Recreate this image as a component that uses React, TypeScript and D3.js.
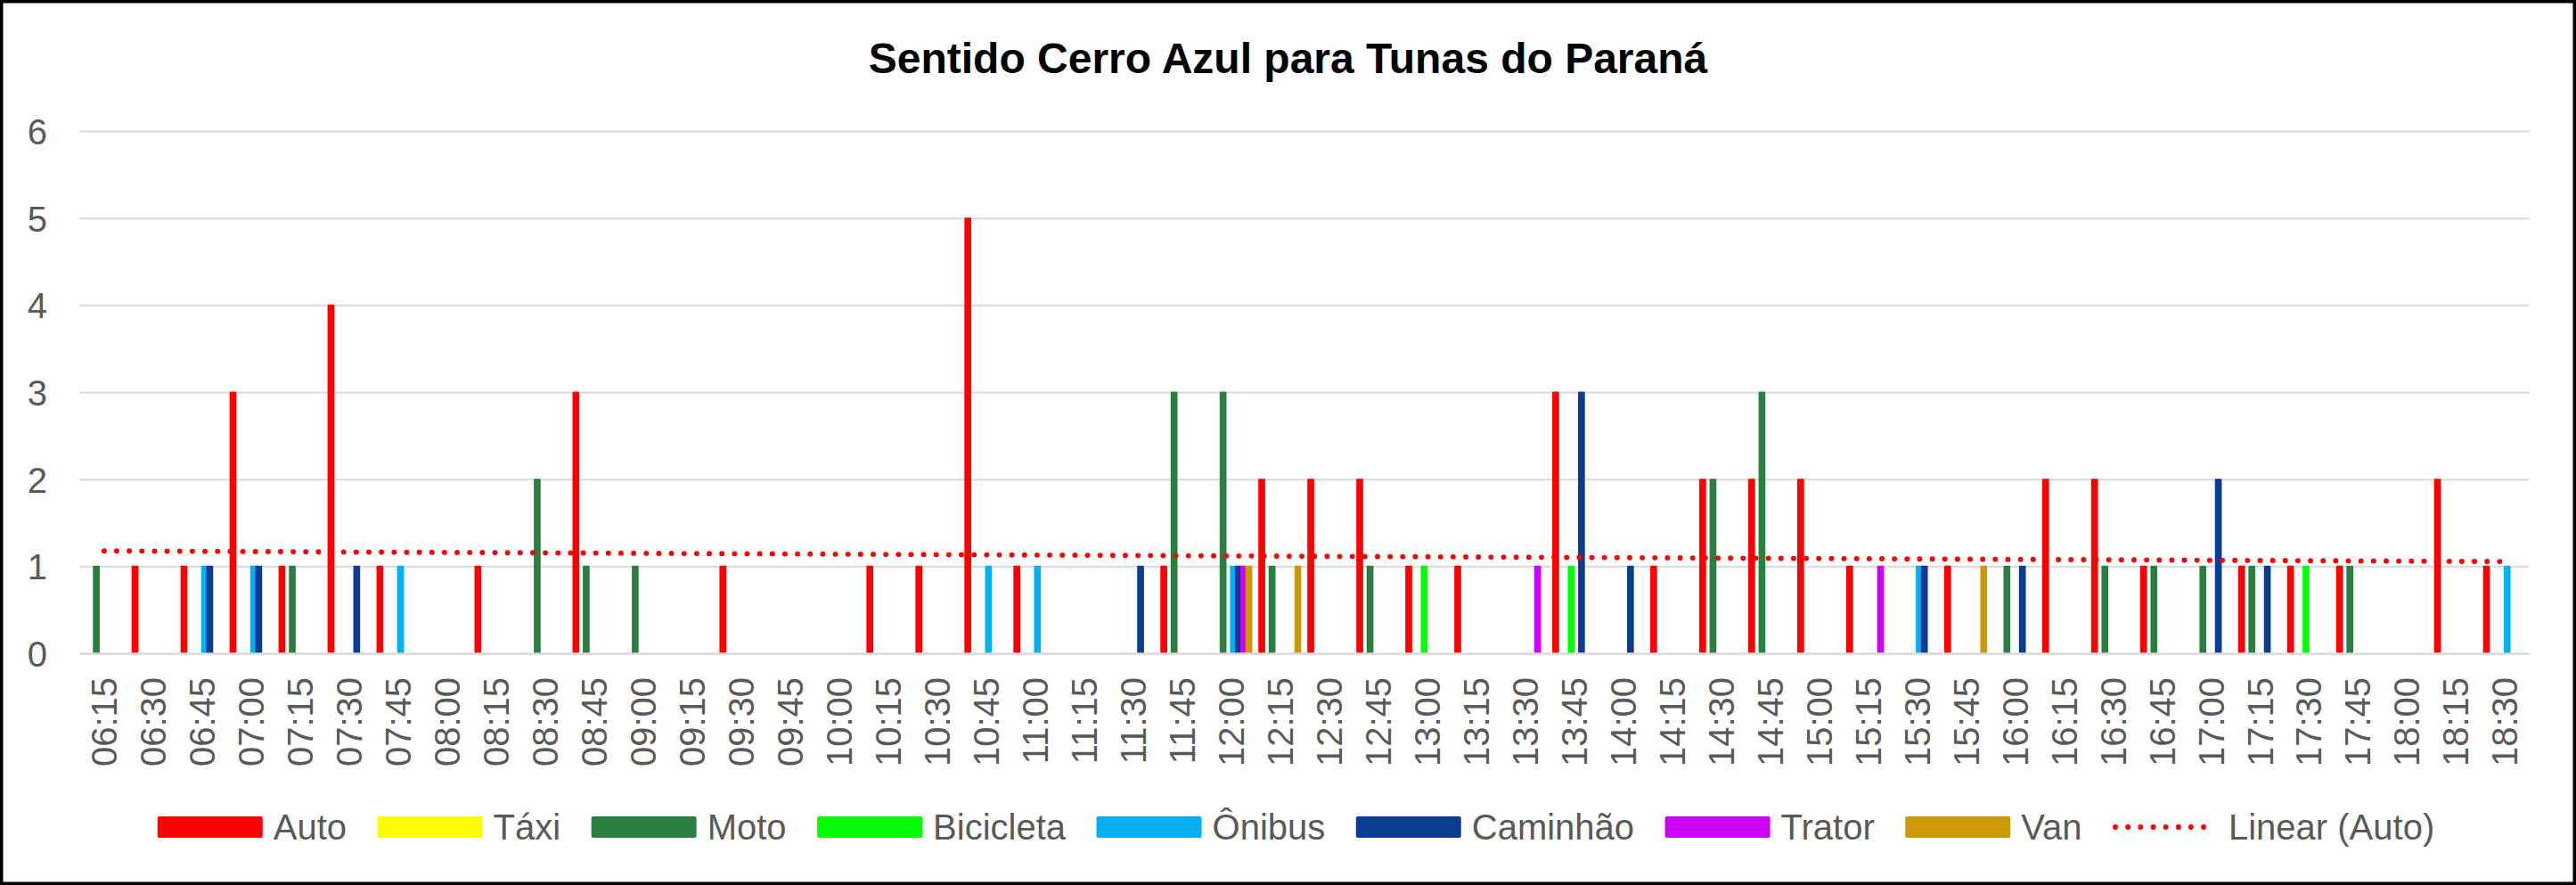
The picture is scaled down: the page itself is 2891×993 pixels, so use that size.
import React from "react";
import * as d3 from "d3";

const W = 2891;
const H = 993;

const title = "Sentido Cerro Azul para Tunas do Paraná";

const categories = [
  "06:15", "06:30", "06:45", "07:00", "07:15", "07:30", "07:45", "08:00", "08:15", "08:30",
  "08:45", "09:00", "09:15", "09:30", "09:45", "10:00", "10:15", "10:30", "10:45", "11:00",
  "11:15", "11:30", "11:45", "12:00", "12:15", "12:30", "12:45", "13:00", "13:15", "13:30",
  "13:45", "14:00", "14:15", "14:30", "14:45", "15:00", "15:15", "15:30", "15:45", "16:00",
  "16:15", "16:30", "16:45", "17:00", "17:15", "17:30", "17:45", "18:00", "18:15", "18:30",
];

const auto = [
  0, 1, 1, 3, 1, 4, 1, 0, 1, 0,
  3, 0, 0, 1, 0, 0, 1, 1, 5, 1,
  0, 0, 1, 0, 2, 2, 2, 1, 1, 0,
  3, 0, 1, 2, 2, 2, 1, 0, 1, 0,
  2, 2, 1, 0, 1, 1, 1, 0, 2, 1,
];
const taxi = [
  0, 0, 0, 0, 0, 0, 0, 0, 0, 0,
  0, 0, 0, 0, 0, 0, 0, 0, 0, 0,
  0, 0, 0, 0, 0, 0, 0, 0, 0, 0,
  0, 0, 0, 0, 0, 0, 0, 0, 0, 0,
  0, 0, 0, 0, 0, 0, 0, 0, 0, 0,
];
const moto = [
  1, 0, 0, 0, 1, 0, 0, 0, 0, 2,
  1, 1, 0, 0, 0, 0, 0, 0, 0, 0,
  0, 0, 3, 3, 1, 0, 1, 0, 0, 0,
  0, 0, 0, 2, 3, 0, 0, 0, 0, 1,
  0, 1, 1, 1, 1, 0, 1, 0, 0, 0,
];
const bicicleta = [
  0, 0, 0, 0, 0, 0, 0, 0, 0, 0,
  0, 0, 0, 0, 0, 0, 0, 0, 0, 0,
  0, 0, 0, 0, 0, 0, 0, 1, 0, 0,
  1, 0, 0, 0, 0, 0, 0, 0, 0, 0,
  0, 0, 0, 0, 0, 1, 0, 0, 0, 0,
];
const onibus = [
  0, 0, 1, 1, 0, 0, 1, 0, 0, 0,
  0, 0, 0, 0, 0, 0, 0, 0, 1, 1,
  0, 0, 0, 1, 0, 0, 0, 0, 0, 0,
  0, 0, 0, 0, 0, 0, 0, 1, 0, 0,
  0, 0, 0, 0, 0, 0, 0, 0, 0, 1,
];
const caminhao = [
  0, 0, 1, 1, 0, 1, 0, 0, 0, 0,
  0, 0, 0, 0, 0, 0, 0, 0, 0, 0,
  0, 1, 0, 1, 0, 0, 0, 0, 0, 0,
  3, 1, 0, 0, 0, 0, 0, 1, 0, 1,
  0, 0, 0, 2, 1, 0, 0, 0, 0, 0,
];
const trator = [
  0, 0, 0, 0, 0, 0, 0, 0, 0, 0,
  0, 0, 0, 0, 0, 0, 0, 0, 0, 0,
  0, 0, 0, 1, 0, 0, 0, 0, 0, 1,
  0, 0, 0, 0, 0, 0, 1, 0, 0, 0,
  0, 0, 0, 0, 0, 0, 0, 0, 0, 0,
];
const van = [
  0, 0, 0, 0, 0, 0, 0, 0, 0, 0,
  0, 0, 0, 0, 0, 0, 0, 0, 0, 0,
  0, 0, 0, 1, 1, 0, 0, 0, 0, 0,
  0, 0, 0, 0, 0, 0, 0, 0, 1, 0,
  0, 0, 0, 0, 0, 0, 0, 0, 0, 0,
];

const seriesNames = ["Auto", "Táxi", "Moto", "Bicicleta", "Ônibus", "Caminhão", "Trator", "Van"];
const seriesValues = [auto, taxi, moto, bicicleta, onibus, caminhao, trator, van];
const seriesColors = ["#FF0000", "#FFFF00", "#2A7F40", "#00FF00", "#00B0F0", "#0C3C92", "#CC00FF", "#CC9900"];
const trendLabel = "Linear (Auto)";
const yTicks = [0, 1, 2, 3, 4, 5, 6];

const FONT = "'Liberation Sans', Arial, Helvetica, sans-serif";
const TEXT_GRAY = "#595959";
const GRID = "#D9D9D9";

function measure(text: string, size: number): number {
  try {
    const c = document.createElement("canvas");
    const ctx = c.getContext("2d");
    if (ctx) {
      ctx.font = `${size}px ${FONT}`;
      return ctx.measureText(text).width;
    }
  } catch (e) {}
  return text.length * size * 0.5;
}

export default function App() {
  const plotLeft = 89.3;
  const plotRight = 2838.3;
  const y0 = 733.5;
  const yTop = 147.5;

  const x0 = d3.scaleBand<string>().domain(categories).range([plotLeft, plotRight]).paddingInner(0).paddingOuter(0);
  const x1 = d3.scaleBand<string>().domain(seriesNames).range([0, x0.bandwidth()]).paddingInner(0).paddingOuter(0.75);
  const y = d3.scaleLinear().domain([0, 6]).range([y0, yTop]);

  const barExtra = 1.9;
  const barW = x1.bandwidth() + barExtra;

  // linear trendline for Auto (least squares over category index)
  const n = auto.length;
  const xs = d3.range(1, n + 1);
  const mx = d3.mean(xs) as number;
  const my = d3.mean(auto) as number;
  const sxy = d3.sum(xs.map((xv, i) => (xv - mx) * (auto[i] - my)));
  const sxx = d3.sum(xs.map((xv) => (xv - mx) * (xv - mx)));
  const slope = sxy / sxx;
  const intercept = my - slope * mx;
  const trendPts: [number, number][] = [1, n].map((xv) => [
    (x0(categories[xv - 1]) as number) + x0.bandwidth() / 2,
    y(intercept + slope * xv),
  ]);
  const line = d3.line();

  // legend layout
  const legendFont = 40;
  const swW = 118;
  const swH = 24;
  const swGap = 12;
  const itemGap = 34.5;
  const legendItems = [...seriesNames.map((s, i) => ({ label: s, color: seriesColors[i], trend: false })), { label: trendLabel, color: "#FF0000", trend: true }];
  const widths = legendItems.map((it) => swW + swGap + measure(it.label, legendFont));
  const total = d3.sum(widths) + itemGap * (legendItems.length - 1);
  let cursor = 1454.5 - total / 2;
  const legendPos = widths.map((w) => {
    const p = cursor;
    cursor += w + itemGap;
    return p;
  });
  const legendY = 928;

  return (
    <svg width={W} height={H} style={{ position: "absolute", left: 0, top: 0, display: "block" }} xmlns="http://www.w3.org/2000/svg">
      <rect x={0} y={0} width={W} height={H} fill="#FFFFFF" />
      <rect x={1.75} y={1.75} width={W - 3.5} height={H - 3.5} fill="none" stroke="#000" strokeWidth={3.5} />

      <text x={W / 2} y={82} textAnchor="middle" fontFamily={FONT} fontWeight="bold" fontSize={48} fill="#000">
        {title}
      </text>

      {/* gridlines */}
      {yTicks.filter((t) => t > 0).map((t) => (
        <line key={"g" + t} x1={plotLeft} x2={plotRight} y1={y(t)} y2={y(t)} stroke={GRID} strokeWidth={2} />
      ))}

      {/* y tick labels */}
      {yTicks.map((t) => (
        <text key={"yt" + t} x={53} y={y(t) + 14.6} textAnchor="end" fontFamily={FONT} fontSize={40} fill={TEXT_GRAY}>
          {t}
        </text>
      ))}

      {/* bars */}
      {seriesValues.map((vals, si) => (
        <g key={"s" + si} fill={seriesColors[si]}>
          {vals.map((v, ci) =>
            v > 0 ? (
              <rect
                key={ci}
                x={(x0(categories[ci]) as number) + (x1(seriesNames[si]) as number) + x1.bandwidth() / 2 - barW / 2}
                y={y(v) - 1}
                width={barW}
                height={y0 - y(v) + 1}
                rx={1}
              />
            ) : null
          )}
        </g>
      ))}

      {/* x axis line */}
      <line x1={plotLeft} x2={plotRight} y1={y0} y2={y0} stroke={GRID} strokeWidth={2.6} />

      {/* x tick labels */}
      {categories.map((c) => {
        const cx = (x0(c) as number) + x0.bandwidth() / 2 + 14.6;
        return (
          <text key={"xt" + c} transform={`translate(${cx},760) rotate(-90)`} textAnchor="end" fontFamily={FONT} fontSize={40} fill={TEXT_GRAY}>
            {c}
          </text>
        );
      })}

      {/* trendline */}
      <path d={line(trendPts) || ""} fill="none" stroke="#FF0000" strokeWidth={5.8} strokeLinecap="round" strokeDasharray="0.1 14.05" />

      {/* legend */}
      {legendItems.map((it, i) => {
        const lx = legendPos[i];
        return (
          <g key={"lg" + i}>
            {it.trend ? (
              <line x1={lx + 3} x2={lx + swW - 3} y1={legendY} y2={legendY} stroke={it.color} strokeWidth={5.8} strokeLinecap="round" strokeDasharray="0.1 14.05" />
            ) : (
              <rect x={lx} y={legendY - swH / 2} width={swW} height={swH} rx={2} fill={it.color} />
            )}
            <text x={lx + swW + swGap} y={legendY + 13.5} fontFamily={FONT} fontSize={legendFont} fill={TEXT_GRAY}>
              {it.label}
            </text>
          </g>
        );
      })}
    </svg>
  );
}
